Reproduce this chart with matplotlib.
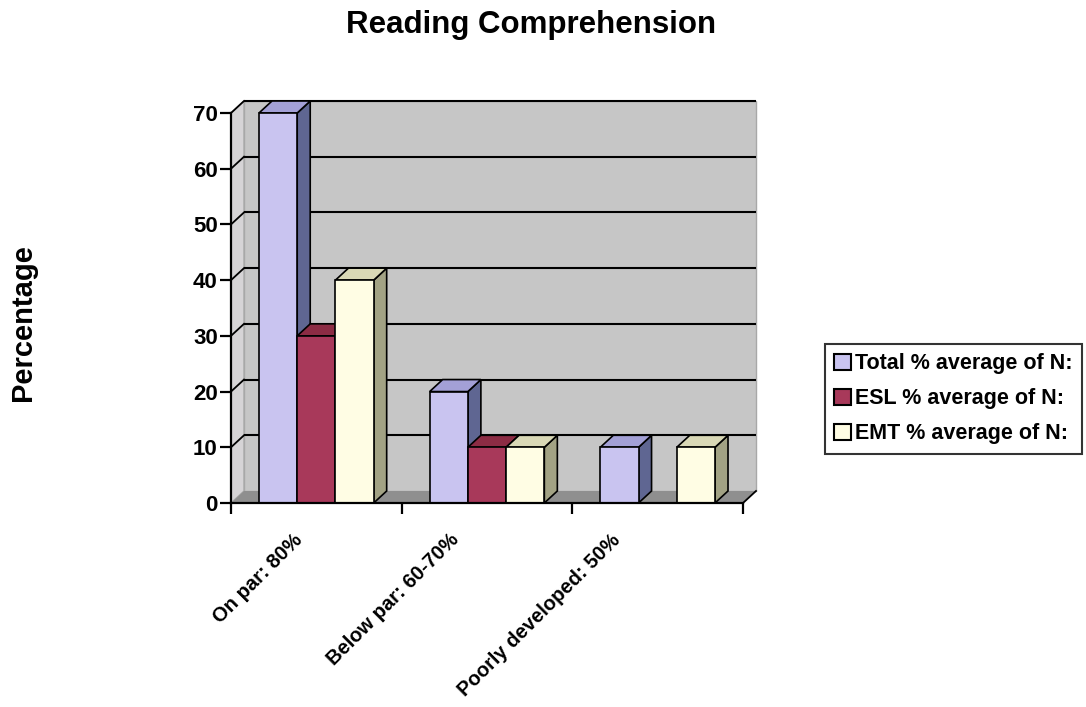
import matplotlib
matplotlib.use("Agg")
import matplotlib.pyplot as plt
import matplotlib.transforms as mtransforms
from matplotlib.patches import Polygon, Rectangle, Patch

# ---- data ----
categories = ["On par: 80%", "Below par: 60-70%", "Poorly developed: 50%"]
series_names = ["Total % average of N:", "ESL % average of N:", "EMT % average of N:"]
total_vals = [70, 20, 10]
esl_vals = [30, 10, 0]
emt_vals = [40, 10, 10]
y_ticks = [0, 10, 20, 30, 40, 50, 60, 70]

# face colours per series: (front, top, side)
series_colors = [
    ("#c9c4f0", "#a3a0d6", "#5f6692"),
    ("#a8395a", "#8c2c44", "#6c2236"),
    ("#fffde4", "#d9d8b6", "#a2a284"),
]
series_vals = [total_vals, esl_vals, emt_vals]

plt.rcParams["font.family"] = ["Liberation Sans", "DejaVu Sans"]
plt.rcParams["font.weight"] = "bold"

W, H, DPI = 1086, 707, 100
fig = plt.figure(figsize=(W / DPI, H / DPI), dpi=DPI)
fig.patch.set_facecolor("white")

ax_l, ax_r, ax_b, ax_t = 231, 743, 503, 113
ax = fig.add_axes([ax_l / W, (H - ax_b) / H, (ax_r - ax_l) / W, (ax_b - ax_t) / H])
ncat = len(categories)
ymax = 70
ax.set_xlim(0, ncat)
ax.set_ylim(0, ymax)
ax.set_facecolor("none")

# depth offset of the 3D box, in pixels, converted to data units
depth_px_x, depth_px_y = 13, 12
dx = depth_px_x * ncat / (ax_r - ax_l)
dy = depth_px_y * ymax / (ax_b - ax_t)

# walls and floor
wall_kw = dict(clip_on=False, zorder=0)
ax.add_patch(Rectangle((dx, dy), ncat, ymax, facecolor="#c6c6c6",
                       edgecolor="#a8a8a8", lw=1.0, **wall_kw))
ax.add_patch(Polygon([(0, 0), (dx, dy), (dx, ymax + dy), (0, ymax)],
                     closed=True, facecolor="#d6d4d6", edgecolor="#a8a8a8",
                     lw=1.0, **wall_kw))
ax.add_patch(Polygon([(0, 0), (ncat, 0), (ncat + dx, dy), (dx, dy)],
                     closed=True, facecolor="#8f8f8f", edgecolor="none",
                     clip_on=False, zorder=0.5))
ax.plot([ncat, ncat + dx], [0, dy], color="black", lw=1.3, clip_on=False, zorder=0.6)

# gridlines on back wall and left wall
for v in y_ticks[1:]:
    ax.plot([dx, ncat + dx], [v + dy, v + dy], color="black", lw=1.5,
            clip_on=False, zorder=0.8, solid_capstyle="butt")
    ax.plot([0, dx], [v, v + dy], color="black", lw=1.3,
            clip_on=False, zorder=0.8)

# 3D bars
group_frac = 0.672
bar_w = group_frac / len(series_vals)
edge_kw = dict(edgecolor="black", lw=1.2, clip_on=False)
z = 2
for ci in range(ncat):
    start = ci + (1 - group_frac) / 2
    for si, vals in enumerate(series_vals):
        v = vals[ci]
        if v <= 0:
            continue
        front, top, side = series_colors[si]
        x0 = start + si * bar_w
        x1 = x0 + bar_w
        ax.add_patch(Polygon([(x1, 0), (x1 + dx, dy), (x1 + dx, v + dy), (x1, v)],
                             closed=True, facecolor=side, zorder=z, **edge_kw))
        ax.add_patch(Polygon([(x0, v), (x1, v), (x1 + dx, v + dy), (x0 + dx, v + dy)],
                             closed=True, facecolor=top, zorder=z, **edge_kw))
        ax.bar(x0, v, width=bar_w, align="edge", color=front, zorder=z + 0.5,
               **edge_kw)
        z += 1

# axes styling
for s in ["top", "right"]:
    ax.spines[s].set_visible(False)
for s in ["left", "bottom"]:
    ax.spines[s].set_color("black")
    ax.spines[s].set_linewidth(1.6)
    ax.spines[s].set_zorder(50)

ax.set_yticks(y_ticks)
ax.set_yticklabels([str(v) for v in y_ticks], fontsize=16, fontweight="bold")
ax.tick_params(axis="y", direction="out", length=8, width=1.6, pad=1.5)

ax.set_xticks(range(ncat + 1))
ax.set_xticklabels([])
ax.tick_params(axis="x", direction="out", length=8, width=1.6)

# rotated category labels, right end just below the axis
label_shift_px = [-17, -31, -40]
for ci, name in enumerate(categories):
    tr = ax.get_xaxis_transform() + mtransforms.ScaledTranslation(
        label_shift_px[ci] / DPI, -34 / DPI, fig.dpi_scale_trans)
    ax.text(ci + 0.5, 0, name, transform=tr, rotation=45, ha="right",
            va="center", rotation_mode="anchor", fontsize=14.5,
            fontweight="bold")

fig.text(531 / W, 1 - 33 / H, "Reading Comprehension", ha="center",
         va="baseline", fontsize=22.5, fontweight="bold")
fig.text(31 / W, 1 - 323 / H, "Percentage", ha="center", va="baseline",
         rotation=90, rotation_mode="anchor", fontsize=21, fontweight="bold")

handles = [Patch(facecolor=c[0], edgecolor="black", lw=1.5) for c in series_colors]
leg = fig.legend(handles, series_names, loc="upper left",
                 bbox_to_anchor=(825 / W, 1 - 344 / H),
                 frameon=True, fancybox=False, edgecolor="black",
                 prop={"weight": "bold", "size": 15.5},
                 handlelength=0.77, handleheight=0.77, handletextpad=0.22,
                 labelspacing=0.66, borderpad=0.42, borderaxespad=0)
leg.get_frame().set_linewidth(1.5)

fig.savefig("out.png", dpi=DPI, facecolor="white")
